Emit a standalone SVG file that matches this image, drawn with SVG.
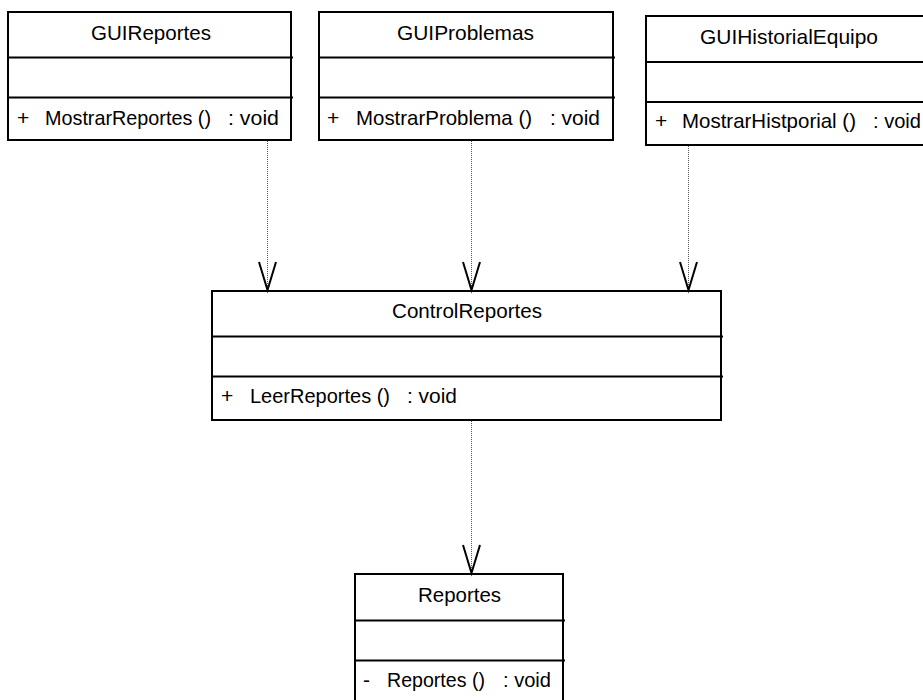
<svg xmlns="http://www.w3.org/2000/svg" width="923" height="700" viewBox="0 0 923 700">
<style>
.box{fill:#fff;stroke:#000;stroke-width:2}
.div{stroke:#000;stroke-width:2;fill:none}
.t{font-family:"Liberation Sans",Arial,sans-serif;font-size:21px;fill:#000}
.conn{stroke:#555;stroke-width:1;stroke-dasharray:1,1;fill:none}
.head{stroke:#000;stroke-width:2;fill:none}
</style>
<rect width="923" height="700" fill="#fff"/>
<g id="GUIReportes">
<rect class="box" x="8" y="12" width="283" height="128"/>
<path class="div" d="M8 57.5H293M8 97.5H293"/>
<text class="t" x="91" y="40" textLength="120" lengthAdjust="spacingAndGlyphs">GUIReportes</text>
<text class="t" x="17" y="125">+</text>
<text class="t" x="45" y="125" textLength="166" lengthAdjust="spacingAndGlyphs">MostrarReportes ()</text>
<text class="t" x="228" y="125" textLength="51" lengthAdjust="spacingAndGlyphs">: void</text>
</g>
<g id="GUIProblemas">
<rect class="box" x="319" y="12" width="294" height="128"/>
<path class="div" d="M319 57.5H615M319 97.5H615"/>
<text class="t" x="397" y="40" textLength="137" lengthAdjust="spacingAndGlyphs">GUIProblemas</text>
<text class="t" x="327" y="125">+</text>
<text class="t" x="356" y="125" textLength="176" lengthAdjust="spacingAndGlyphs">MostrarProblema ()</text>
<text class="t" x="550" y="125" textLength="50" lengthAdjust="spacingAndGlyphs">: void</text>
</g>
<g id="GUIHistorialEquipo">
<rect class="box" x="646" y="16" width="290" height="129"/>
<path class="div" d="M646 62H930M646 102H930"/>
<text class="t" x="700" y="44" textLength="178" lengthAdjust="spacingAndGlyphs">GUIHistorialEquipo</text>
<text class="t" x="655" y="128">+</text>
<text class="t" x="682" y="128" textLength="174" lengthAdjust="spacingAndGlyphs">MostrarHistporial ()</text>
<text class="t" x="873" y="128" textLength="48" lengthAdjust="spacingAndGlyphs">: void</text>
</g>
<g id="ControlReportes">
<rect class="box" x="212" y="291" width="509" height="129"/>
<path class="div" d="M212 336.5H723M212 376.5H723"/>
<text class="t" x="392" y="318" textLength="150" lengthAdjust="spacingAndGlyphs">ControlReportes</text>
<text class="t" x="221" y="403">+</text>
<text class="t" x="250" y="403" textLength="140" lengthAdjust="spacingAndGlyphs">LeerReportes ()</text>
<text class="t" x="407" y="403" textLength="50" lengthAdjust="spacingAndGlyphs">: void</text>
</g>
<g id="Reportes">
<rect class="box" x="355" y="574" width="208" height="140"/>
<path class="div" d="M355 620.5H565M355 660.5H565"/>
<text class="t" x="418" y="602" textLength="83" lengthAdjust="spacingAndGlyphs">Reportes</text>
<text class="t" x="363" y="687">-</text>
<text class="t" x="387" y="687" textLength="98" lengthAdjust="spacingAndGlyphs">Reportes ()</text>
<text class="t" x="503" y="687" textLength="48" lengthAdjust="spacingAndGlyphs">: void</text>
</g>
<g id="connectors">
<path class="conn" d="M267.5 141V289"/>
<path class="head" d="M259 262L267.5 290L276 262"/>
<path class="conn" d="M471.5 141V289"/>
<path class="head" d="M463 262L471.5 290L480 262"/>
<path class="conn" d="M688.5 146V289"/>
<path class="head" d="M680 262L688.5 290L697 262"/>
<path class="conn" d="M471.5 421V572"/>
<path class="head" d="M463 545L471.5 573L480 545"/>
</g>
</svg>
